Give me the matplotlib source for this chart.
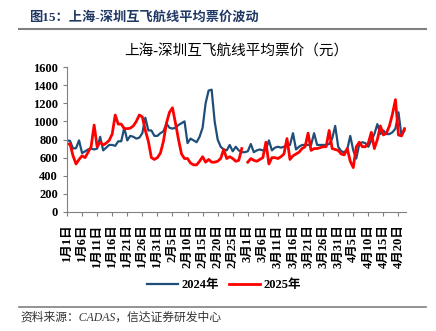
"""
上海-深圳互飞航线平均票价波动 复刻
"""
import numpy as np
import matplotlib
matplotlib.use('Agg')
import matplotlib.pyplot as plt

plt.rcParams['font.family'] = ['Liberation Serif', 'Noto Sans CJK SC']
plt.rcParams['axes.unicode_minus'] = False

# 数据：2024年日期轴（闰年），1月1日 - 4月22日
tick_labels = ['1月1日', '1月6日', '1月11日', '1月16日', '1月21日', '1月26日', '1月31日',
               '2月5日', '2月10日', '2月15日', '2月20日', '2月25日', '3月1日', '3月6日',
               '3月11日', '3月16日', '3月21日', '3月26日', '3月31日', '4月5日', '4月10日',
               '4月15日', '4月20日']

price_2024 = [790, 785, 700, 705, 790, 650, 670, 690, 700, 690,
              700, 830, 680, 710, 740, 740, 730, 780, 780, 930,
              790, 840, 830, 810, 820, 870, 1040, 900, 900, 840,
              840, 870, 890, 975, 930, 920, 930, 960, 980, 1000,
              760, 810, 790, 770, 830, 930, 1200, 1340, 1350, 1000,
              800, 720, 690, 680, 740, 670, 720, 680, 660, 660,
              670, 750, 660, 680, 690, 680, 690, 790, 680, 710,
              720, 710, 720, 740, 740, 870, 690, 720, 740, 740,
              740, 740, 870, 740, 740, 740, 740, 750, 810, 950,
              720, 670, 660, 690, 840, 680, 590, 750, 770, 760,
              720, 790, 860, 970, 860, 900, 860, 860, 880, 920,
              1100, 840, 900]

# 2025年无2月29日（索引59为空）
price_2025 = [750, 750, 620, 530, 580, 620, 600, 660, 720, 960,
              720, 770, 740, 760, 790, 860, 1070, 970, 970, 920,
              920, 925, 950, 1000, 1070, 1050, 900, 780, 600, 580,
              600, 650, 780, 980, 1100, 1150, 980, 800, 640, 590,
              590, 540, 520, 520, 560, 610, 550, 580, 550, 550,
              560, 590, 690, 590, 610, 590, 560, 570, 700, np.nan,
              550, 590, 570, 560, 580, 600, 770, 530, 600, 600,
              590, 610, 640, 810, 580, 620, 640, 660, 700, 720,
              870, 680, 700, 700, 710, 720, 720, 900, 700, 690,
              680, 640, 630, 700, 560, 490, 720, 770, 720, 720,
              760, 880, 700, 800, 950, 850, 870, 950, 1080, 1240,
              850, 840, 920]

days = np.arange(len(price_2024))
tick_pos = np.arange(0, 111, 5)

fig = plt.figure(figsize=(4.36, 3.31), dpi=100)

# 顶部标题与分隔线
fig.text(29 / 436, 1 - 17 / 331, '图15：上海-深圳互飞航线平均票价波动',
         fontsize=9.5, fontweight='bold', color='#1F3864', va='center', ha='left')
fig.add_artist(plt.Line2D([19 / 436, 426 / 436], [1 - 29 / 331, 1 - 29 / 331],
                          color='#808080', linewidth=1.5))

ax = fig.add_axes([67 / 436, 1 - 212 / 331, (406 - 67) / 436, (212 - 67) / 331])
ax.plot(days, price_2024, color='#1F4E79', linewidth=1.6, label='2024年')
ax.plot(days, price_2025, color='#FF0000', linewidth=2.0, label='2025年')

ax.set_title('上海-深圳互飞航线平均票价（元）', fontsize=10.5, pad=8)
ax.set_xlim(0, 112.5)
ax.set_ylim(0, 1600)
ax.set_yticks(np.arange(0, 1601, 200))
ax.set_xticks(tick_pos)
ax.set_xticklabels(tick_labels, rotation=90)
ax.tick_params(axis='both', labelsize=9, length=3, color='#808080')
ax.tick_params(axis='x', pad=6)
for lbl in ax.get_xticklabels() + ax.get_yticklabels():
    lbl.set_fontweight('bold')
for side in ['top', 'right']:
    ax.spines[side].set_visible(False)
ax.spines['left'].set_color('#808080')
ax.spines['bottom'].set_color('#808080')

leg = fig.legend(loc='center', bbox_to_anchor=(224 / 436, 1 - 285 / 331), ncol=2,
                 frameon=False, prop={'weight': 'bold', 'size': 9},
                 handlelength=2.5, columnspacing=0.8, handletextpad=0.3)

# 底部分隔线与来源
fig.add_artist(plt.Line2D([19 / 436, 426 / 436], [1 - 307 / 331, 1 - 307 / 331],
                          color='#808080', linewidth=1.2))
fig.text(20 / 436, 1 - 318 / 331, '资料来源：CADAS，信达证券研发中心',
         fontsize=8.5, style='italic', color='#333333', va='center', ha='left')

fig.savefig('out.png', dpi=100)
